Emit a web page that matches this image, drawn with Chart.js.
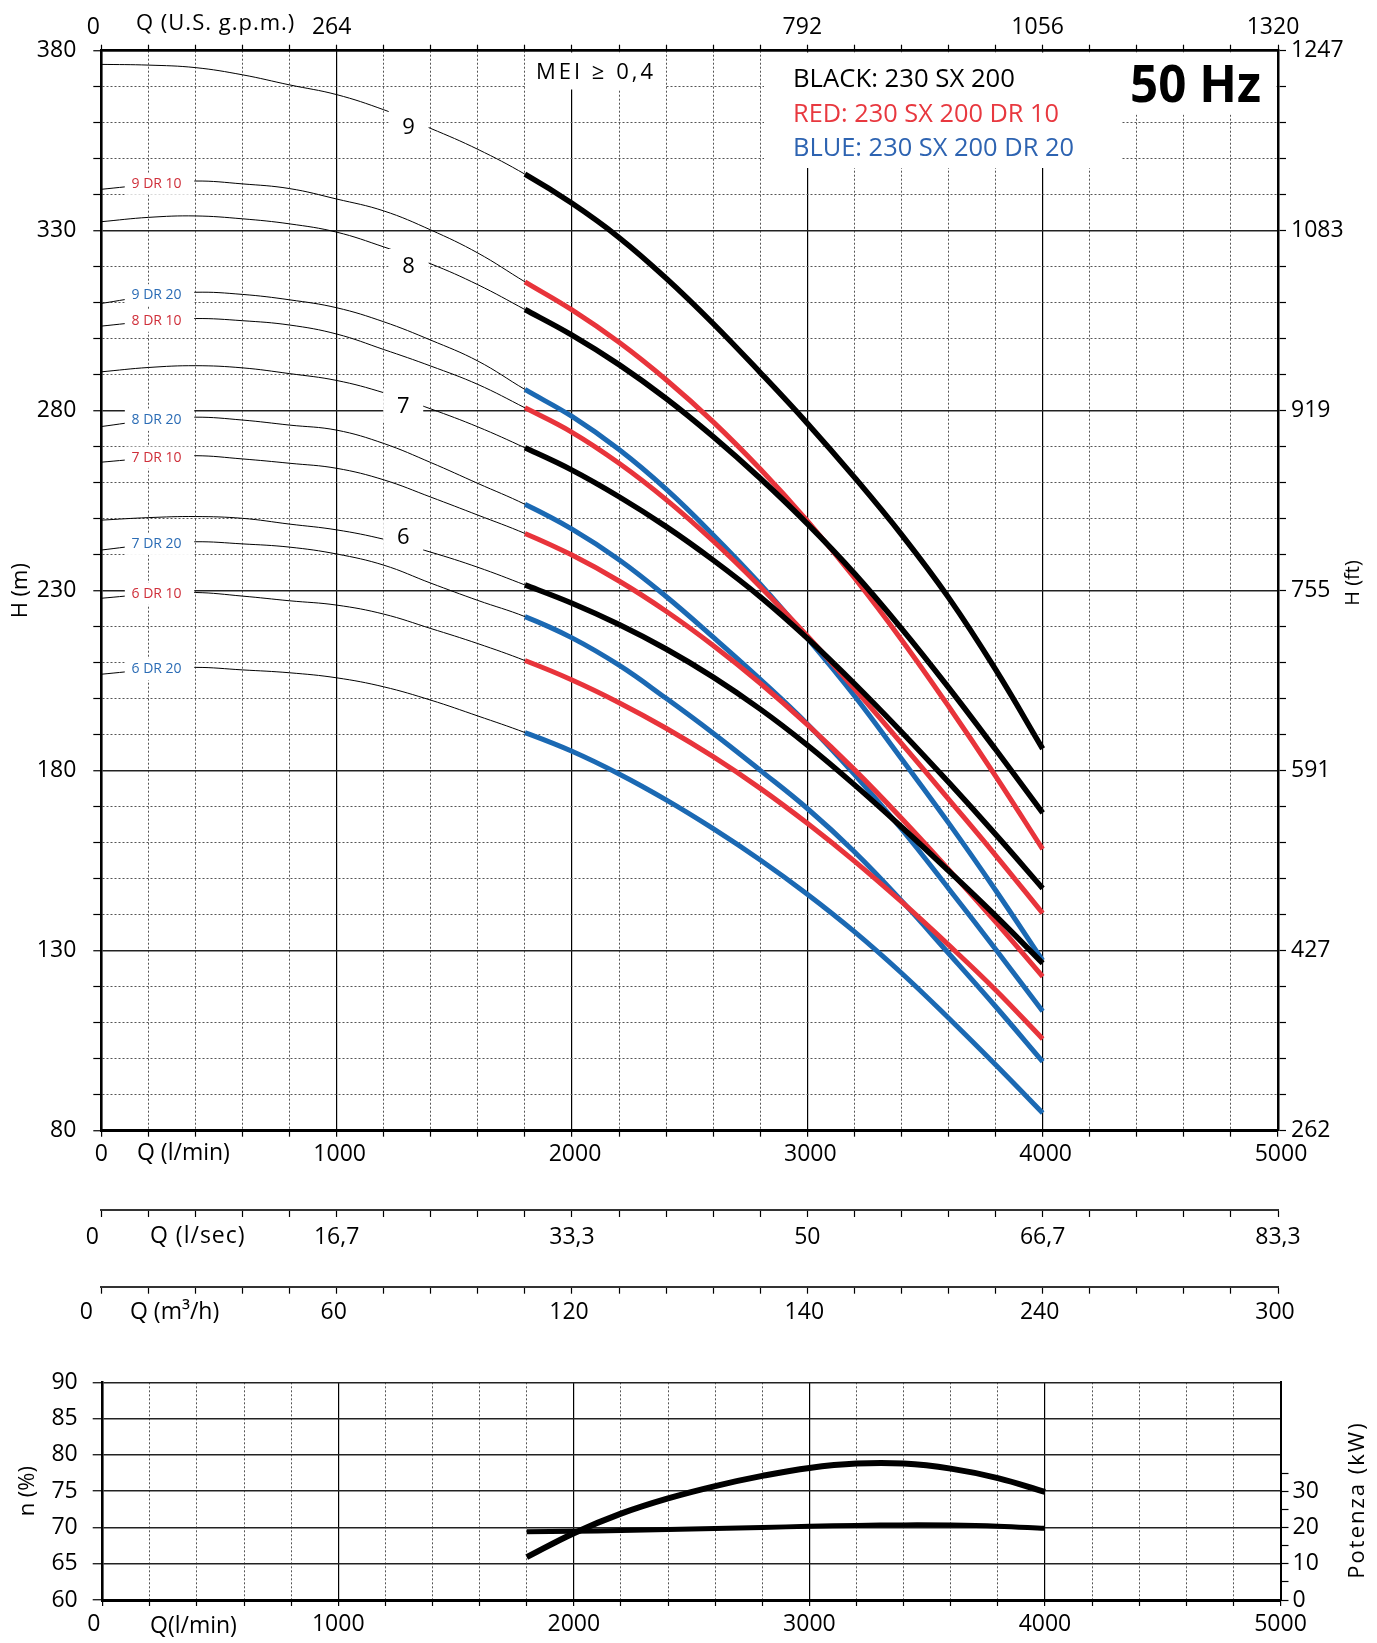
<!DOCTYPE html>
<html>
<head>
<meta charset="utf-8">
<script src="https://cdn.jsdelivr.net/npm/chart.js@4.4.1/dist/chart.umd.min.js"></script>
<style>
  html, body { margin: 0; padding: 0; background: #fff; }
  #wrap { position: relative; width: 1377px; height: 1643px; }
  canvas { position: absolute; left: 0; }
  #headChart { top: 0; }
  #effChart { top: 1340px; }
</style>
</head>
<body>
<div id="wrap">
  <canvas id="headChart" width="1377" height="1340"></canvas>
  <canvas id="effChart" width="1377" height="303"></canvas>
</div>
<script>
// Flow points (l/min) shared by all head curves
const flowLmin = [0, 200, 400, 600, 800, 1000, 1200, 1400, 1600, 1800, 2000,
                  2200, 2400, 2600, 2800, 3000, 3200, 3400, 3600, 3800, 4000];
const workingFrom = 1800; // thin line below this flow, thick line above

// Head H (m) - 230 SX 200
const head9 = [376.2, 376.0, 375.3, 373.3, 370.5, 367.8, 363.6, 358.4, 352.6, 345.7, 337.6, 328.1, 316.8, 304.2, 290.6, 276.5, 261.5, 245.6, 228.1, 208.1, 186.1];
const head8 = [332.5, 333.7, 334.1, 333.3, 331.9, 329.6, 325.5, 320.8, 315.0, 308.1, 301.0, 292.8, 283.4, 272.8, 261.2, 248.6, 234.8, 219.5, 203.1, 185.9, 168.3];
const head7 = [290.8, 292.0, 292.5, 291.9, 290.3, 288.4, 285.0, 280.5, 275.5, 269.7, 263.5, 256.1, 247.8, 238.5, 228.3, 216.8, 204.2, 190.8, 176.8, 162.3, 147.3];
const head6 = [249.6, 250.3, 250.6, 250.1, 248.5, 246.9, 244.3, 240.7, 236.5, 231.6, 226.5, 220.6, 213.8, 206.0, 197.1, 187.1, 176.1, 164.4, 152.2, 139.7, 126.5];
// Head H (m) - 230 SX 200 DR 10
const head9dr10 = [341.5, 342.8, 343.8, 343.0, 341.7, 338.8, 335.5, 330.2, 323.8, 315.8, 308.0, 299.0, 288.6, 276.9, 263.8, 249.4, 233.6, 216.4, 197.9, 178.5, 158.2];
const head8dr10 = [303.5, 304.8, 305.6, 305.0, 303.8, 301.3, 297.0, 292.4, 287.3, 280.8, 274.0, 265.4, 255.3, 243.8, 231.1, 217.4, 202.8, 187.6, 172.1, 156.5, 140.4];
const head7dr10 = [265.7, 266.8, 267.5, 266.6, 265.4, 264.0, 260.8, 256.0, 251.0, 245.9, 239.9, 232.7, 224.3, 214.8, 204.3, 192.8, 180.3, 166.8, 152.6, 138.0, 122.8];
const head6dr10 = [227.9, 229.0, 229.5, 228.5, 227.2, 226.0, 223.5, 219.5, 215.3, 210.6, 205.2, 198.9, 191.8, 183.9, 175.1, 165.4, 154.9, 143.6, 131.6, 119.1, 105.5];
// Head H (m) - 230 SX 200 DR 20
const head9dr20 = [309.8, 311.8, 312.9, 312.3, 310.8, 308.6, 304.7, 299.6, 293.8, 285.9, 278.4, 269.2, 258.2, 245.5, 231.8, 216.8, 200.8, 183.3, 165.5, 146.8, 127.3];
const head8dr20 = [275.6, 277.3, 278.2, 277.4, 276.0, 274.6, 270.9, 265.6, 259.8, 254.0, 247.1, 238.6, 228.4, 217.1, 205.4, 193.0, 179.0, 163.8, 147.3, 130.4, 113.2];
const head7dr20 = [241.3, 242.8, 243.6, 243.0, 242.1, 240.2, 237.1, 232.1, 227.3, 222.8, 216.9, 209.3, 200.1, 190.4, 180.1, 169.5, 157.5, 143.9, 129.3, 114.5, 99.2];
const head6dr20 = [206.8, 208.0, 208.7, 208.0, 207.2, 205.8, 203.3, 199.6, 195.2, 190.6, 185.4, 179.1, 171.9, 163.9, 155.2, 145.7, 135.3, 123.8, 111.3, 98.3, 84.9];

// Efficiency and power
const effFlow = [1800, 2000, 2200, 2400, 2600, 2800, 3000, 3200, 3400, 3600, 3800, 4000];
const efficiency = [65.9, 69.2, 71.9, 74.0, 75.7, 77.1, 78.2, 78.8, 78.8, 78.1, 76.8, 74.9];
const powerKw = [18.8, 18.95, 19.15, 19.4, 19.7, 20.0, 20.3, 20.55, 20.7, 20.65, 20.35, 19.75];

// Tick labels
const lminTicks = [0, 1000, 2000, 3000, 4000, 5000];
const lminLabels = ['0 ', '1000', '2000', '3000', '4000', '5000'];
const effQLabels = ['0   ', '1000', '2000', '3000', '4000', '5000'];
const gpmLabels = ['0 ', '264', '', '792', '1056', '1320'];
const lsecLabels = ['0   ', '16,7', '33,3', '50', '66,7', '83,3'];
const m3hLabels = ['0    ', '60', '120', '140', '240', '300'];
const headTicks = [80, 130, 180, 230, 280, 330, 380];
const feetLabels = ['262', '427', '591', '755', '919', '1083', '1247'];
const effTicks = [60, 65, 70, 75, 80, 85, 90];
const kwTicks = [0, 10, 20, 30];

const BLACK = '#000000';
const RED = '#e8343b';
const BLUE = '#1b69b3';

Chart.defaults.font.family = "'Open Sans', sans-serif";
Chart.defaults.color = '#000';

const curves = [
    { name: '9', values: head9, color: BLACK, labelQ: 1306, labelDy: 7 },
    { name: '8', values: head8, color: BLACK, labelQ: 1306, labelDy: 10 },
    { name: '7', values: head7, color: BLACK, labelQ: 1283, labelDy: 6 },
    { name: '6', values: head6, color: BLACK, labelQ: 1283, labelDy: -8 },
    { name: '9 DR 10', values: head9dr10, color: RED },
    { name: '8 DR 10', values: head8dr10, color: RED },
    { name: '7 DR 10', values: head7dr10, color: RED },
    { name: '6 DR 10', values: head6dr10, color: RED },
    { name: '9 DR 20', values: head9dr20, color: BLUE },
    { name: '8 DR 20', values: head8dr20, color: BLUE },
    { name: '7 DR 20', values: head7dr20, color: BLUE },
    { name: '6 DR 20', values: head6dr20, color: BLUE }
];

function stepTicks(from, to, step) {
    const out = [];
    for (let v = from; v <= to + 1e-9; v += step) out.push({ value: v });
    return out;
}

function labelFor(v, values, labels) {
    const i = values.indexOf(v);
    return i >= 0 ? labels[i] : '';
}

function headAt(values, q) {
    for (let i = 0; i < flowLmin.length - 1; i++) {
        if (q >= flowLmin[i] && q <= flowLmin[i + 1]) {
            const t = (q - flowLmin[i]) / (flowLmin[i + 1] - flowLmin[i]);
            return values[i] + t * (values[i + 1] - values[i]);
        }
    }
    return values[values.length - 1];
}

const dotted = [2, 2];
const isTick = c => c.type === 'tick' && c.tick;

// Flow axis options shared by the various Q scales
function flowAxis(position, height, labels, extra) {
    return Object.assign({
        type: 'linear', position: position, min: 0, max: 5000,
        afterBuildTicks: s => { s.ticks = stepTicks(0, 5000, 200); },
        afterFit: s => { s.height = height; },
        ticks: {
            autoSkip: false, maxRotation: 0, padding: 4, font: { size: 23 },
            callback: v => labelFor(v, lminTicks, labels)
        },
        grid: { drawOnChartArea: false, tickLength: 7, color: '#000', tickWidth: 1.2 },
        border: { color: '#000', width: 2 }
    }, extra);
}

const splitIndex = flowLmin.indexOf(workingFrom);

// Head chart decorations: white boxes, legend, curve labels, axis names
const headDecor = {
    id: 'headDecor',
    beforeDatasetsDraw(chart) {
        const c = chart.ctx;
        c.save();
        c.fillStyle = '#fff';
        c.fillRect(525, 52.5, 140, 37);
        c.fillRect(764, 52.5, 512, 62);
        c.fillRect(764, 114, 358, 54);
        c.restore();
    },
    afterDatasetsDraw(chart) {
        const c = chart.ctx;
        const xs = chart.scales.x;
        const ys = chart.scales.y;
        c.save();
        c.textAlign = 'center';
        c.textBaseline = 'middle';
        curves.forEach(cv => {
            if (cv.labelQ) {
                const x = xs.getPixelForValue(cv.labelQ);
                const y = ys.getPixelForValue(headAt(cv.values, cv.labelQ)) + cv.labelDy;
                c.fillStyle = '#fff';
                c.fillRect(x - 20, y - 17, 40, 34);
                c.fillStyle = '#000';
                c.font = "22px 'Open Sans'";
                c.fillText(cv.name, x, y + 1);
            } else {
                const x1 = xs.getPixelForValue(100);
                const x2 = xs.getPixelForValue(395);
                const y = ys.getPixelForValue(headAt(cv.values, 247));
                c.fillStyle = '#fff';
                c.fillRect(x1, y - 11, x2 - x1, 22);
                c.fillStyle = cv.color === RED ? '#cf2f3a' : '#2b6cb5';
                c.font = "14px 'Open Sans'";
                c.fillText(cv.name, (x1 + x2) / 2 - 3, y);
            }
        });
        c.restore();
    },
    afterDraw(chart) {
        const c = chart.ctx;
        c.save();
        c.fillStyle = '#000';
        c.textBaseline = 'alphabetic';
        c.textAlign = 'left';
        // MEI note
        c.font = "22px 'Open Sans'";
        c.letterSpacing = '3px';
        c.fillText('MEI \u2265 0,4', 536, 79);
        c.letterSpacing = '0px';
        // Legend
        c.font = "26px 'Open Sans'";
        c.fillText('BLACK: 230 SX 200', 793, 87, 222);
        c.fillStyle = '#e8383f';
        c.fillText('RED: 230 SX 200 DR 10', 793, 121.5, 266);
        c.fillStyle = '#2d63b1';
        c.fillText('BLUE: 230 SX 200 DR 20', 793, 156, 281);
        c.fillStyle = '#000';
        c.font = "bold 52px 'Open Sans'";
        c.fillText('50 Hz', 1130, 102, 131);
        // Axis names
        c.font = "22px 'Open Sans'";
        c.letterSpacing = '1px';
        c.fillText('Q (U.S. g.p.m.)', 136, 30);
        c.letterSpacing = '0px';
        c.font = "23px 'Open Sans'";
        c.textBaseline = 'middle';
        c.fillText('Q (l/min)', 137, 1153);
        c.letterSpacing = '1px';
        c.fillText('Q (l/sec)', 150, 1236);
        c.letterSpacing = '0px';
        c.fillText('Q (m\u00b3/h)', 130, 1312);
        c.translate(1353, 583);
        c.rotate(-Math.PI / 2);
        c.textAlign = 'center';
        c.font = "20px 'Open Sans'";
        c.fillText('H (ft)', 0, 0);
        c.restore();
    }
};

// Head chart
const headChart = new Chart(document.getElementById('headChart').getContext('2d'), {
    type: 'line',
    data: {
        datasets: curves.map(cv => ({
            label: cv.name,
            data: flowLmin.map((q, i) => ({ x: q, y: cv.values[i] })),
            borderColor: cv.color,
            borderWidth: 5,
            tension: 0.4,
            pointRadius: 0,
            segment: {
                borderWidth: s => s.p0DataIndex < splitIndex ? 1 : (cv.color === BLACK ? 5.5 : 5),
                borderColor: s => s.p0DataIndex < splitIndex ? '#000' : cv.color
            }
        }))
    },
    options: {
        responsive: false,
        animation: false,
        devicePixelRatio: 1,
        layout: { padding: 0, autoPadding: false },
        plugins: { legend: { display: false }, tooltip: { enabled: false } },
        scales: {
            x: flowAxis('bottom', 79.3, lminLabels, {
                ticks: { autoSkip: false, maxRotation: 0, padding: 4, labelOffset: 3, font: { size: 23 },
                         callback: v => labelFor(v, lminTicks, lminLabels) },
                grid: {
                    color: c => isTick(c) && c.tick.value % 1000 === 0 ? '#000' : '#555',
                    lineWidth: c => isTick(c) && c.tick.value % 1000 === 0 ? 1.2 : 1,
                    tickLength: 6, tickColor: '#000', tickWidth: 1.2
                },
                border: { color: '#000', width: 3, dash: c => isTick(c) && c.tick.value % 1000 !== 0 ? dotted : [] }
            }),
            xs: flowAxis('bottom', 76.7, lsecLabels, {
                ticks: { autoSkip: false, maxRotation: 0, padding: 7, font: { size: 23 },
                         callback: v => labelFor(v, lminTicks, lsecLabels) },
                border: { color: '#333', width: 2 }
            }),
            xm: flowAxis('bottom', 53.3, m3hLabels, {
                ticks: { autoSkip: false, maxRotation: 0, padding: 5, labelOffset: -3, font: { size: 23 },
                         callback: v => labelFor(v, lminTicks, m3hLabels) },
                border: { color: '#333', width: 2 }
            }),
            xt: flowAxis('top', 50.7, gpmLabels, {
                ticks: { autoSkip: false, maxRotation: 0, padding: 3, labelOffset: -5, font: { size: 23 },
                         callback: v => labelFor(v, lminTicks, gpmLabels) },
                grid: { drawOnChartArea: false, tickLength: 6, color: '#000', tickWidth: 1.2 },
                border: { color: '#000', width: 2.5 }
            }),
            y: {
                type: 'linear', position: 'left', min: 80, max: 380,
                afterBuildTicks: s => { s.ticks = stepTicks(80, 380, 10); },
                afterFit: s => { s.width = 101.3; },
                ticks: { padding: 17, font: { size: 23 }, callback: v => labelFor(v, headTicks, headTicks.map(String)) },
                grid: {
                    color: c => isTick(c) && headTicks.includes(c.tick.value) ? '#222' : '#555',
                    lineWidth: c => isTick(c) && headTicks.includes(c.tick.value) ? 1.5 : 1,
                    tickLength: 8, tickColor: '#000', tickWidth: 1.2
                },
                border: { color: '#000', width: 2.5, dash: c => isTick(c) && !headTicks.includes(c.tick.value) ? dotted : [] },
                title: { display: true, text: 'H (m)', font: { size: 22 }, padding: { top: 8, bottom: 0 } }
            },
            yr: {
                type: 'linear', position: 'right', min: 80, max: 380,
                afterBuildTicks: s => { s.ticks = stepTicks(80, 380, 10); },
                afterFit: s => { s.width = 99; },
                ticks: { padding: 5, font: { size: 23 }, callback: v => labelFor(v, headTicks, feetLabels) },
                grid: { drawOnChartArea: false, tickLength: 8, color: '#000', tickWidth: 1.2 },
                border: { color: '#000', width: 2.5 }
            }
        }
    },
    plugins: [headDecor]
});

// Efficiency chart decorations
const effDecor = {
    id: 'effDecor',
    afterDraw(chart) {
        const c = chart.ctx;
        c.save();
        c.fillStyle = '#000';
        c.textBaseline = 'middle';
        c.font = "23px 'Open Sans'";
        c.fillText('Q(l/min)', 150, 286);
        c.translate(1358, 160);
        c.rotate(-Math.PI / 2);
        c.textAlign = 'center';
        c.font = "22px 'Open Sans'";
        c.letterSpacing = '2px';
        c.fillText('Potenza (kW)', 0, 0);
        c.restore();
    }
};

// Efficiency / power chart
const effChart = new Chart(document.getElementById('effChart').getContext('2d'), {
    type: 'line',
    data: {
        datasets: [
            {
                label: 'n (%)',
                data: effFlow.map((q, i) => ({ x: q, y: efficiency[i] })),
                borderColor: '#000', borderWidth: 6, pointRadius: 0,
                tension: 0.4, yAxisID: 'y'
            },
            {
                label: 'Potenza (kW)',
                data: effFlow.map((q, i) => ({ x: q, y: powerKw[i] })),
                borderColor: '#000', borderWidth: 5, pointRadius: 0,
                tension: 0.4, yAxisID: 'yp'
            }
        ]
    },
    options: {
        responsive: false,
        animation: false,
        devicePixelRatio: 1,
        layout: { padding: { top: 42.3, left: 0, right: 0, bottom: 0 }, autoPadding: false },
        plugins: { legend: { display: false }, tooltip: { enabled: false } },
        scales: {
            x: flowAxis('bottom', 43, effQLabels, {
                ticks: { autoSkip: false, maxRotation: 0, padding: 5, font: { size: 23 },
                         callback: v => labelFor(v, lminTicks, effQLabels) },
                grid: {
                    color: c => isTick(c) && c.tick.value % 1000 === 0 ? '#000' : '#555',
                    lineWidth: c => isTick(c) && c.tick.value % 1000 === 0 ? 1.2 : 1,
                    tickLength: 6, tickColor: '#000', tickWidth: 1.2
                },
                border: { color: '#000', width: 3, dash: c => isTick(c) && c.tick.value % 1000 !== 0 ? dotted : [] }
            }),
            y: {
                type: 'linear', position: 'left', min: 60, max: 90,
                afterBuildTicks: s => { s.ticks = stepTicks(60, 90, 2.5); },
                afterFit: s => { s.width = 102.7; },
                ticks: { padding: 15, font: { size: 23 }, callback: v => labelFor(v, effTicks, effTicks.map(String)) },
                grid: {
                    color: c => isTick(c) && effTicks.includes(c.tick.value) ? '#222' : '#555',
                    lineWidth: c => isTick(c) && effTicks.includes(c.tick.value) ? 1.5 : 1,
                    tickLength: 10, tickColor: '#000', tickWidth: 1.2
                },
                border: { color: '#000', width: 2.5, dash: c => isTick(c) && !effTicks.includes(c.tick.value) ? dotted : [] },
                title: { display: true, text: 'n (%)', font: { size: 22 }, padding: { top: 15, bottom: 0 } }
            },
            yp: {
                type: 'linear', position: 'right', min: 0, max: 60,
                afterBuildTicks: s => { s.ticks = stepTicks(0, 35, 5); },
                afterFit: s => { s.width = 96.5; },
                ticks: { padding: 4, font: { size: 23 }, callback: v => labelFor(v, kwTicks, kwTicks.map(String)) },
                grid: { drawOnChartArea: false, tickLength: 8, color: '#000', tickWidth: 1.2 },
                border: { color: '#000', width: 2 }
            }
        }
    },
    plugins: [effDecor]
});
</script>
</body>
</html>
